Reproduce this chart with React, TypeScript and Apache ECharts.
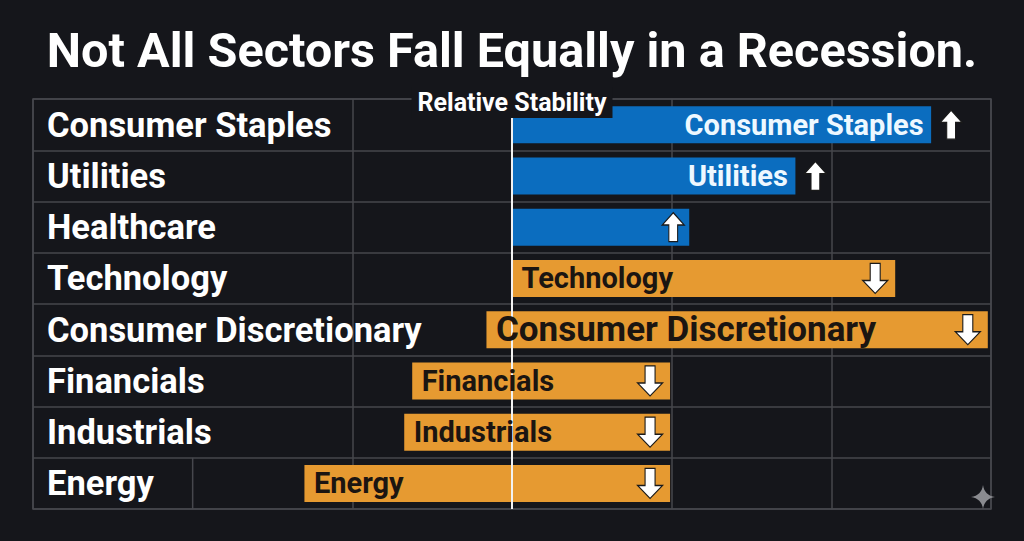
import React, { useEffect, useRef } from 'react';
import * as echarts from 'echarts';

// sectors, top to bottom
const sectors = [
  'Consumer Staples',
  'Utilities',
  'Healthcare',
  'Technology',
  'Consumer Discretionary',
  'Financials',
  'Industrials',
  'Energy',
];
// each bar is a range on the stability scale (0 = centre line)
const barStart = [0, 0, 0, 0, -0.16, -0.625, -0.675, -1.3];
const barEnd = [2.625, 1.775, 1.11, 2.4, 2.98, 0.99, 0.99, 0.99];
const direction = ['up', 'up', 'up', 'down', 'down', 'down', 'down', 'down'];
const barLabels = [
  'Consumer Staples',
  'Utilities',
  '',
  'Technology',
  'Consumer Discretionary',
  'Financials',
  'Industrials',
  'Energy',
];
const xTicks = [-3, -2, -1, 0, 1, 2, 3];

const BG = '#15161b';
const GRID = '#46474d';
const BLUE = '#0b6dbf';
const ORANGE = '#e69a31';
const FONT = 'Roboto';

const UP_ARROW = 'path://M10,0 L20,12 L14,12 L14,28 L6,28 L6,12 L0,12 Z';
const DOWN_ARROW = 'path://M6,0 L14,0 L14,16 L20,16 L10,28 L0,16 L6,16 Z';
const SPARKLE =
  'M12,0 C13,7 17,11 24,12 C17,13 13,17 12,24 C11,17 7,13 0,12 C7,11 11,7 12,0 Z';

const App: React.FC = () => {
  const chartRef = useRef<HTMLDivElement>(null);

  useEffect(() => {
    document.body.style.margin = '0';
    document.body.style.background = BG;
    echarts.graphic.registerShape('sparkle', echarts.graphic.extendPath(SPARKLE, {}));
    const chart = echarts.init(chartRef.current!, undefined, { renderer: 'svg' });

    const spanData = sectors.map((name, i) => ({
      value: barEnd[i] - barStart[i],
      itemStyle: { color: direction[i] === 'up' ? BLUE : ORANGE },
    }));

    // bar captions sit in their own series so they stay above the centre line
    const labelData = sectors
      .map((name, i) => {
        const up = direction[i] === 'up';
        const big = name === 'Consumer Discretionary';
        return {
          value: [up ? barEnd[i] : barStart[i], name],
          label: {
            show: true,
            formatter: barLabels[i],
            position: up ? 'left' : 'right',
            distance: up ? 7 : 9,
            color: up ? '#eef8ff' : '#1b1511',
            fontSize: big ? 35 : 29,
            fontWeight: 'bold',
            fontFamily: FONT,
          },
        };
      })
      .filter((d, i) => barLabels[i] !== '');

    const arrowData = sectors.map((name, i) => {
      const up = direction[i] === 'up';
      const outside = up && barLabels[i] !== '';
      return {
        value: [barEnd[i], name],
        symbol: up ? UP_ARROW : DOWN_ARROW,
        symbolSize: up ? [22, 29] : [25, 30],
        symbolOffset: [outside ? 20 : up ? -16 : -20, 0],
      };
    });

    const option: echarts.EChartsOption = {
      animation: false,
      backgroundColor: BG,
      title: {
        text: 'Not All Sectors Fall Equally in a Recession.',
        left: 'center',
        top: 21,
        textStyle: {
          color: '#ffffff',
          fontSize: 48.6,
          fontWeight: 'bold',
          fontFamily: FONT,
        },
      },
      grid: {
        left: 33,
        right: 33,
        top: 99,
        bottom: 32,
        show: true,
        borderColor: GRID,
        borderWidth: 1.5,
        backgroundColor: 'transparent',
      },
      xAxis: {
        type: 'value',
        min: xTicks[0],
        max: xTicks[xTicks.length - 1],
        interval: 1,
        axisLabel: { show: false },
        axisLine: { show: false },
        axisTick: { show: false },
        splitLine: {
          show: true,
          lineStyle: {
            color: xTicks.map((t) => (t === -2 ? 'transparent' : GRID)),
            width: 1.5,
          },
        },
      },
      yAxis: {
        type: 'category',
        data: sectors,
        inverse: true,
        axisLine: { show: false },
        axisTick: { show: false },
        axisLabel: {
          inside: true,
          margin: 14,
          color: '#ffffff',
          fontSize: 34.5,
          fontWeight: 'bold',
          fontFamily: FONT,
        },
        splitLine: { show: true, lineStyle: { color: GRID, width: 1.5 } },
      },
      series: [
        {
          name: 'base',
          type: 'bar',
          stack: 'range',
          stackStrategy: 'all',
          data: barStart,
          barWidth: 37,
          itemStyle: { color: 'transparent' },
          silent: true,
        },
        {
          name: 'span',
          type: 'bar',
          stack: 'range',
          stackStrategy: 'all',
          data: spanData,
          barWidth: 37,
          z: 3,
          markLine: {
            silent: true,
            symbol: 'none',
            lineStyle: { color: '#f2f2f2', width: 2, type: 'solid' },
            label: {
              show: true,
              position: 'start',
              distance: -19,
              formatter: 'Relative Stability',
              color: '#ffffff',
              fontSize: 25,
              fontWeight: 'bold',
              fontFamily: FONT,
              backgroundColor: BG,
              padding: [3, 6],
            },
            data: [{ xAxis: 0 }],
          },
        },
        {
          name: 'captions',
          type: 'scatter',
          data: labelData,
          symbolSize: 1,
          itemStyle: { color: 'transparent', opacity: 1 },
          z: 6,
          silent: true,
        },
        {
          name: 'arrows',
          type: 'scatter',
          data: arrowData,
          z: 5,
          itemStyle: { color: '#ffffff', borderColor: '#1a1a1a', borderWidth: 1.2, opacity: 1 },
          silent: true,
        },
      ],
    };

    chart.setOption(option);

    // short divider that appears only in the bottom row
    const xDiv = chart.convertToPixel({ xAxisIndex: 0 }, -2) as number;
    const yLast = chart.convertToPixel({ yAxisIndex: 0 }, sectors[sectors.length - 1]) as number;
    const yPrev = chart.convertToPixel({ yAxisIndex: 0 }, sectors[sectors.length - 2]) as number;
    const half = (yLast - yPrev) / 2;
    chart.setOption({
      graphic: [
        {
          type: 'line',
          shape: { x1: xDiv, y1: yLast - half, x2: xDiv, y2: yLast + half },
          style: { stroke: GRID, lineWidth: 1.5 },
          z: 0,
        },
        {
          type: 'sparkle',
          x: 971,
          y: 485,
          scaleX: 1,
          scaleY: 1,
          style: { fill: '#8a8b90' },
          z: 10,
        },
      ],
    });

    return () => {
      chart.dispose();
    };
  }, []);

  return (
    <div
      ref={chartRef}
      style={{ position: 'fixed', left: 0, top: 0, width: '1024px', height: '541px' }}
    />
  );
};

export default App;
